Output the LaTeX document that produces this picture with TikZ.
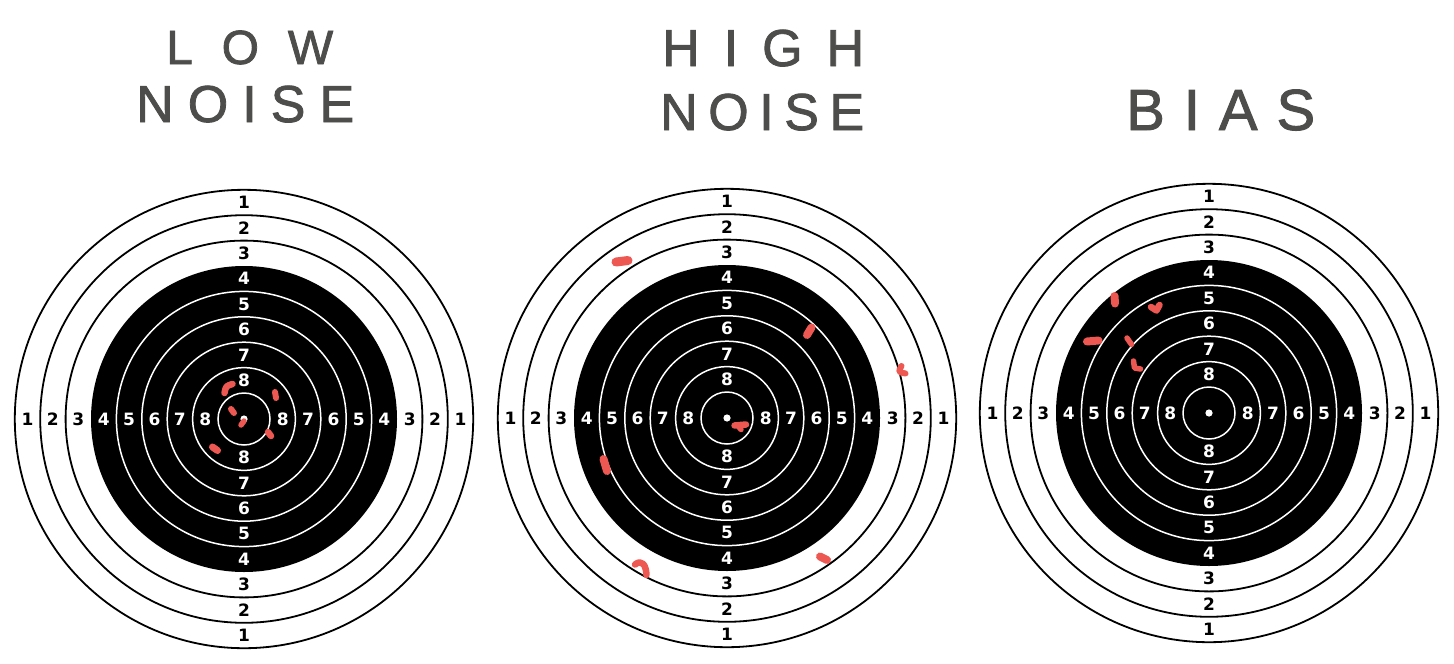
\documentclass[tikz,border=0pt]{standalone}
\usepackage{fontspec}
\setmainfont{DejaVu Sans}
\newfontfamily\handfont[FakeBold=1.6]{Liberation Sans}
\definecolor{ink}{RGB}{77,77,75}
\definecolor{hit}{RGB}{238,88,82}
\tikzset{
  blackring/.style={draw=black, line width=1.8pt},
  whitering/.style={draw=white, line width=1.5pt},
  numlab/.style={font=\bfseries\fontsize{17}{17}\selectfont, inner sep=0pt},
  hand/.style={text=ink, inner sep=0pt, anchor=base west},
  hitstroke/.style={draw=hit, line width=6.5pt, line cap=round, line join=round},
}
\newcommand\drawtarget[3]{%
\begin{scope}[shift={(#2,#3)}]
  \fill[white] (0,0) circle (230);
  \fill[black] (0,0) circle (153);
  \foreach \j in {6,7,8} \draw[blackring] (0,0) circle ({26+25.4*\j});
  \foreach \j in {0,...,4} \draw[whitering] (0,0) circle ({26+25.4*\j});
  \fill[white] (0,0) circle (3.6);
  \foreach \n in {1,...,8} {
    \pgfmathsetmacro\rr{26+25.4*(8.5-\n)}
    \ifnum\n<4 \def\lc{black}\else\def\lc{white}\fi
    \node[numlab,text=\lc] (#1-n\n) at (0,-\rr) {\n};
    \node[numlab,text=\lc] (#1-s\n) at (0,\rr) {\n};
    \node[numlab,text=\lc] (#1-w\n) at (-\rr,0) {\n};
    \node[numlab,text=\lc] (#1-e\n) at (\rr,0) {\n};
  }
\end{scope}}
\begin{document}
\begin{tikzpicture}[x=1pt,y=-1pt]
\useasboundingbox (0,0) rectangle (1454,664);
\fill[white] (0,0) rectangle (1454,664);

% titles
\node[hand, font=\handfont\fontsize{48}{48}\selectfont] (lowtxt) at (166,64) {\makebox[167pt][s]{L\hfill O\hfill W}};
\node[hand, font=\handfont\fontsize{52}{52}\selectfont] (noise1) at (136,122) {\makebox[218pt][s]{N\hfill O\hfill I\hfill S\hfill E}};
\node[hand, font=\handfont\fontsize{52}{52}\selectfont] (hightxt) at (662,66) {\makebox[202pt][s]{H\hfill I\hfill G\hfill H}};
\node[hand, font=\handfont\fontsize{52}{52}\selectfont] (noise2) at (660,130) {\makebox[204pt][s]{N\hfill O\hfill I\hfill S\hfill E}};
\node[hand, font=\handfont\fontsize{58}{58}\selectfont] (biastxt) at (1126,130) {\makebox[189pt][s]{B\hfill I\hfill A\hfill S}};

% targets
\drawtarget{ta}{244}{419}
\drawtarget{tb}{727}{418}
\drawtarget{tc}{1209}{413}

% hits: low noise
\draw[hitstroke] (224.5,393) .. controls (226,386) .. (232.5,384);
\draw[hitstroke, line width=6pt] (275,392) -- (276,398);
\draw[hitstroke, line width=6pt] (231,409) -- (234,413);
\draw[hitstroke, line width=5.5pt] (241,425) -- (244,421);
\draw[hitstroke] (268,432) -- (271,436);
\draw[hitstroke, line width=7pt] (212.5,447) -- (217.5,450.5);

% hits: high noise
\draw[hitstroke, line width=9pt] (616,262) -- (628,260.5);
\draw[hitstroke, line width=8pt] (807,335) -- (811.5,327.5);
\draw[hitstroke, line width=6pt] (901.5,366) .. controls (898,372) .. (905.5,373.5);
\draw[hitstroke] (734.5,425.5) -- (746,424.5);
\draw[hitstroke, line width=5.5pt] (739,427) -- (741,429.5);
\draw[hitstroke, line width=8pt] (603.5,459) -- (607,471);
\draw[hitstroke] (635,564.5) .. controls (642,559) and (646,565) .. (646.5,575);
\draw[hitstroke, line width=8pt] (820,556.5) -- (827,560);

% hits: bias
\draw[hitstroke, line width=8pt] (1114.5,296) -- (1115,303.5);
\draw[hitstroke, line width=6.5pt] (1151,307) -- (1156.5,310.5) -- (1159.5,305);
\draw[hitstroke, line width=8pt] (1087,341.5) -- (1098.5,340.5);
\draw[hitstroke, line width=5.5pt] (1127,338) -- (1131.5,344.5);
\draw[hitstroke, line width=5.5pt] (1133.5,361) -- (1134.5,368) -- (1140.5,369);
\end{tikzpicture}
\end{document}
